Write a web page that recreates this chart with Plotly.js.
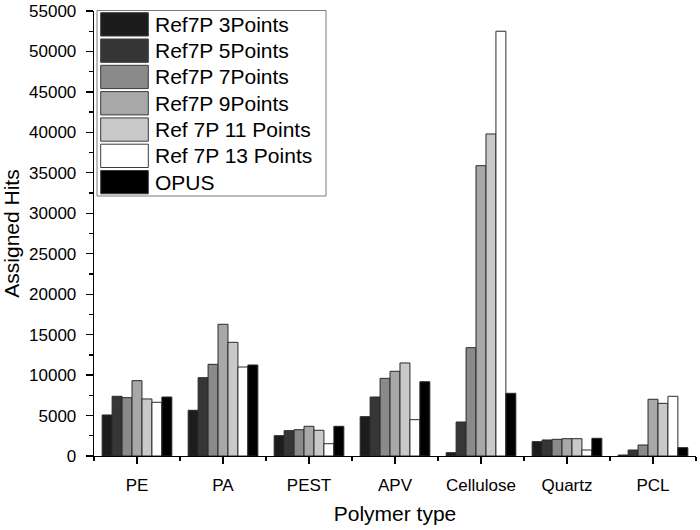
<!DOCTYPE html>
<html>
<head>
<meta charset="utf-8">
<script src="https://cdn.plot.ly/plotly-3.0.1.min.js"></script>
<style>html,body{margin:0;padding:0;background:#fff;}#chart{width:700px;height:530px;}</style>
</head>
<body>
<div id="chart"></div>
<script>
// ---- data ----
const categories = ["PE", "PA", "PEST", "APV", "Cellulose", "Quartz", "PCL"];
const seriesNames = ["Ref7P 3Points", "Ref7P 5Points", "Ref7P 7Points", "Ref7P 9Points",
                     "Ref 7P 11 Points", "Ref 7P 13 Points", "OPUS"];
const ref3  = [5070, 5650, 2510, 4860,   410, 1770,  120];
const ref5  = [7380, 9680, 3130, 7290,  4200, 1980,  740];
const ref7  = [7210, 11330, 3250, 9600, 13390, 2060, 1360];
const ref9  = [9310, 16280, 3670, 10470, 35880, 2140, 7010];
const ref11 = [7050, 14050, 3180, 11500, 39800, 2140, 6510];
const ref13 = [6640, 11000, 1520, 4490, 52500,  740, 7380];
const opus  = [7290, 11250, 3670, 9180,  7750, 2190, 1030];
const seriesValues = [ref3, ref5, ref7, ref9, ref11, ref13, opus];
const seriesColors = ["#1c1c1c", "#363636", "#8a8a8a", "#a8a8a8", "#c9c9c9", "#ffffff", "#000000"];

const FONT = "Liberation Sans, Arial, Helvetica, sans-serif";

const traces = seriesValues.map((vals, i) => ({
  type: "bar",
  name: seriesNames[i],
  x: categories,
  y: vals,
  marker: { color: seriesColors[i], line: { color: "#2a2a2a", width: 1 } },
  showlegend: false
}));
// helper trace for boundary (minor) ticks on an overlaid axis
traces.push({ type: "scatter", mode: "none", x: categories, xaxis: "x2", yaxis: "y",
              hoverinfo: "skip", showlegend: false });

// ---- custom legend (big swatches like the original) ----
const W = 700, H = 530, ML = 94, MR = 4, MT = 11, MB = 74;
const PW = W - ML - MR, PH = H - MT - MB;
const px = v => (v - ML) / PW;
const py = v => (H - MB - v) / PH;
const shapes = [];
const annotations = [];
shapes.push({ type: "rect", xref: "paper", yref: "paper",
  x0: px(97), x1: px(326), y0: py(196), y1: py(10.5),
  line: { color: "#7a7a7a", width: 1 }, fillcolor: "#ffffff", layer: "above" });
const rowH = 26.3, top0 = 12.7, swH = 23.3;
seriesNames.forEach((name, i) => {
  const t = top0 + rowH * i;
  shapes.push({ type: "rect", xref: "paper", yref: "paper",
    x0: px(100.7), x1: px(148.3), y0: py(t + swH), y1: py(t),
    line: { color: "#3a3a3a", width: 1 }, fillcolor: seriesColors[i], layer: "above" });
  annotations.push({ xref: "paper", yref: "paper", x: px(153), y: py(t + swH / 2),
    xanchor: "left", yanchor: "middle", showarrow: false, text: name,
    font: { family: FONT, size: 21, color: "#000" } });
});

const layout = {
  width: W, height: H,
  margin: { l: ML, r: MR, t: MT, b: MB, pad: 0 },
  paper_bgcolor: "#ffffff", plot_bgcolor: "#ffffff",
  font: { family: FONT, size: 17, color: "#000" },
  barmode: "group", bargap: 0.19, bargroupgap: 0,
  showlegend: false,
  xaxis: {
    type: "category", categoryorder: "array", categoryarray: categories,
    range: [-0.5, 6.5], showline: true, linecolor: "#000", linewidth: 1.3,
    ticks: "outside", ticklen: 7, tickwidth: 1.3, tickcolor: "#000",
    showgrid: false, zeroline: false,
    tickfont: { family: FONT, size: 17, color: "#000" },
    ticklabelstandoff: 6,
    title: { text: "Polymer type", font: { family: FONT, size: 21, color: "#000" }, standoff: 12 },
    automargin: false
  },
  xaxis2: {
    type: "category", categoryorder: "array", categoryarray: categories,
    overlaying: "x", matches: "x", range: [-0.5, 6.5], side: "bottom",
    tickson: "boundaries", ticks: "outside", ticklen: 4, tickwidth: 1.3, tickcolor: "#000",
    showticklabels: false, showline: false, showgrid: false, zeroline: false
  },
  yaxis: {
    range: [0, 55000], dtick: 5000, tick0: 0, tickformat: "d",
    showline: true, linecolor: "#000", linewidth: 1.3,
    ticks: "outside", ticklen: 7, tickwidth: 1.3, tickcolor: "#000",
    minor: { dtick: 2500, ticks: "outside", ticklen: 4, tickwidth: 1.3, tickcolor: "#000", showgrid: false },
    showgrid: false, zeroline: false,
    tickfont: { family: FONT, size: 17, color: "#000" },
    ticklabelstandoff: 6,
    title: { text: "Assigned Hits", font: { family: FONT, size: 21, color: "#000" }, standoff: 8 },
    automargin: false
  },
  shapes: shapes,
  annotations: annotations
};

Plotly.newPlot("chart", traces, layout, { staticPlot: true, displayModeBar: false });
</script>
</body>
</html>
